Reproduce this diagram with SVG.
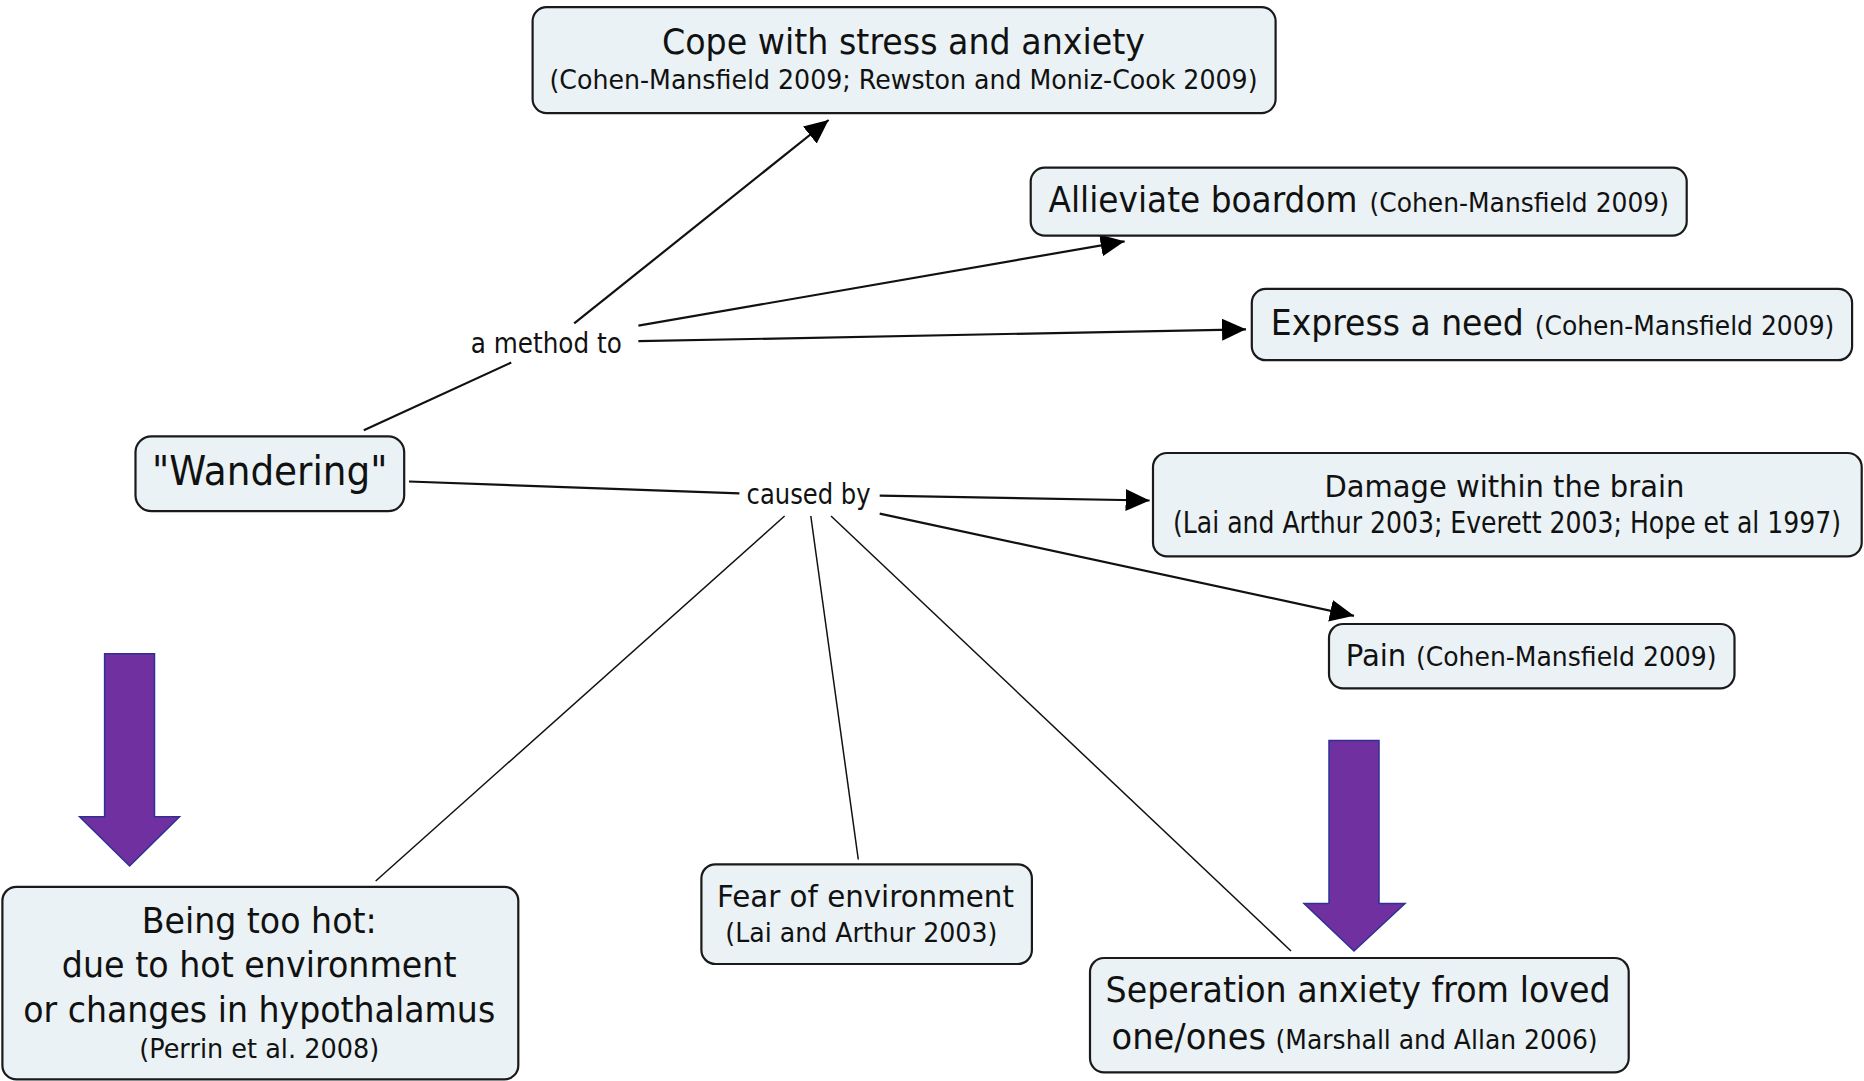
<svg xmlns="http://www.w3.org/2000/svg" width="1864" height="1081" viewBox="0 0 1864 1081">
<defs>
<style>
.box{fill:#EAF2F5;stroke:#1a1a1a;stroke-width:2.2}
text{font-family:"DejaVu Sans","Verdana","Liberation Sans",sans-serif;fill:#111}
.t32{font-size:35px}
.t28{font-size:31px}
.t25{font-size:27px}
.t24{font-size:26px}
.lab{font-size:28px}
.c{stroke:#111;stroke-width:2.2;fill:none}
.cl{stroke:#111;stroke-width:1.5;fill:none}
.purple{fill:#7030A0;stroke:#2E3192;stroke-width:1.5}
</style>
<marker id="ah" markerWidth="26" markerHeight="22" refX="24" refY="11" orient="auto" markerUnits="userSpaceOnUse">
<path d="M0,0 L24,11 L0,22 Z" fill="#000"/>
</marker>
</defs>
<rect width="1864" height="1081" fill="#fff"/>

<g id="connectors">
<line class="c" x1="363.8" y1="430.3" x2="511.2" y2="362.6"/>
<line class="c" x1="574.2" y1="323.4" x2="828.6" y2="120" marker-end="url(#ah)"/>
<line class="c" x1="638.4" y1="325.7" x2="1124.6" y2="241.3" marker-end="url(#ah)"/>
<line class="c" x1="638.4" y1="341.2" x2="1246" y2="329.3" marker-end="url(#ah)"/>
<line class="c" x1="409" y1="481.5" x2="739.4" y2="493.3"/>
<line class="c" x1="879.7" y1="495.7" x2="1149.6" y2="500.5" marker-end="url(#ah)"/>
<line class="c" x1="879.7" y1="513.6" x2="1354" y2="615.8" marker-end="url(#ah)"/>
<line class="cl" x1="784.6" y1="516" x2="375.7" y2="881"/>
<line class="cl" x1="810.8" y1="516" x2="858.3" y2="859.5"/>
<line class="cl" x1="831" y1="516" x2="1291" y2="951"/>
</g>

<g id="label-method">
<text class="lab" x="470.8" y="353" textLength="151" lengthAdjust="spacingAndGlyphs">a method to</text>
</g>
<g id="label-caused">
<text class="lab" x="746.6" y="504" textLength="124" lengthAdjust="spacingAndGlyphs">caused by</text>
</g>

<g id="node-cope">
<rect class="box" x="532.6" y="7.1" width="743" height="106" rx="14"/>
<text class="t32" x="903.5" y="53.5" text-anchor="middle" textLength="483" lengthAdjust="spacingAndGlyphs">Cope with stress and anxiety</text>
<text class="t25" x="903.5" y="89" text-anchor="middle" textLength="708" lengthAdjust="spacingAndGlyphs">(Cohen-Mansfield 2009; Rewston and Moniz-Cook 2009)</text>
</g>

<g id="node-alleviate">
<rect class="box" x="1030.7" y="167.6" width="656" height="68" rx="14"/>
<text class="t32" x="1048.5" y="212" textLength="309" lengthAdjust="spacingAndGlyphs">Allieviate boardom</text>
<text class="t24" x="1369.5" y="212" textLength="299.5" lengthAdjust="spacingAndGlyphs">(Cohen-Mansfield 2009)</text>
</g>

<g id="node-express">
<rect class="box" x="1251.8" y="288.9" width="600.3" height="71.3" rx="14"/>
<text class="t32" x="1270.8" y="334.5" textLength="253" lengthAdjust="spacingAndGlyphs">Express a need</text>
<text class="t24" x="1534.7" y="334.5" textLength="299.6" lengthAdjust="spacingAndGlyphs">(Cohen-Mansfield 2009)</text>
</g>

<g id="node-wandering">
<rect class="box" x="135.5" y="436.3" width="268.7" height="74.9" rx="16"/>
<text x="152" y="485" style="font-size:41px" textLength="235.5" lengthAdjust="spacingAndGlyphs">"Wandering"</text>
</g>

<g id="node-damage">
<rect class="box" x="1153" y="453" width="708.7" height="103.4" rx="14"/>
<text class="t28" x="1504.4" y="497" text-anchor="middle" textLength="360" lengthAdjust="spacingAndGlyphs">Damage within the brain</text>
<text class="t28" x="1841" y="532.6" text-anchor="end" textLength="668" lengthAdjust="spacingAndGlyphs">(Lai and Arthur 2003; Everett 2003; Hope et al 1997)</text>
</g>

<g id="node-pain">
<rect class="box" x="1329" y="624" width="405.5" height="64.3" rx="14"/>
<text class="t28" x="1345.7" y="666" textLength="60.6" lengthAdjust="spacingAndGlyphs">Pain</text>
<text class="t25" x="1415.9" y="666" textLength="300.7" lengthAdjust="spacingAndGlyphs">(Cohen-Mansfield 2009)</text>
</g>

<g id="node-hot">
<rect class="box" x="2.4" y="886.8" width="515.9" height="192.6" rx="14"/>
<text class="t32" x="259.2" y="933" text-anchor="middle" textLength="235" lengthAdjust="spacingAndGlyphs">Being too hot:</text>
<text class="t32" x="259.2" y="977" text-anchor="middle" textLength="394.7" lengthAdjust="spacingAndGlyphs">due to hot environment</text>
<text class="t32" x="259.2" y="1022" text-anchor="middle" textLength="472" lengthAdjust="spacingAndGlyphs">or changes in hypothalamus</text>
<text class="t25" x="259.2" y="1058" text-anchor="middle" textLength="240" lengthAdjust="spacingAndGlyphs">(Perrin et al. 2008)</text>
</g>

<g id="node-fear">
<rect class="box" x="701.4" y="864.3" width="330.5" height="99.7" rx="14"/>
<text class="t28" x="865.4" y="907" text-anchor="middle" textLength="297" lengthAdjust="spacingAndGlyphs">Fear of environment</text>
<text class="t25" x="861.3" y="941.5" text-anchor="middle" textLength="272" lengthAdjust="spacingAndGlyphs">(Lai and Arthur 2003)</text>
</g>

<g id="node-separation">
<rect class="box" x="1090" y="958" width="538.7" height="114.3" rx="14"/>
<text class="t32" x="1105.6" y="1002" textLength="505" lengthAdjust="spacingAndGlyphs">Seperation anxiety from loved</text>
<text class="t32" x="1111.5" y="1048.5" textLength="154.5" lengthAdjust="spacingAndGlyphs">one/ones</text>
<text class="t25" x="1275.6" y="1048.5" textLength="322" lengthAdjust="spacingAndGlyphs">(Marshall and Allan 2006)</text>
</g>

<g id="purple-arrow-left">
<polygon class="purple" points="104.6,653.8 154.5,653.8 154.5,816.7 179.5,816.7 129.6,866 79.6,816.7 104.6,816.7"/>
</g>
<g id="purple-arrow-right">
<polygon class="purple" points="1329,740.6 1379,740.6 1379,903.5 1405,903.5 1354,951 1304,903.5 1329,903.5"/>
</g>
</svg>
